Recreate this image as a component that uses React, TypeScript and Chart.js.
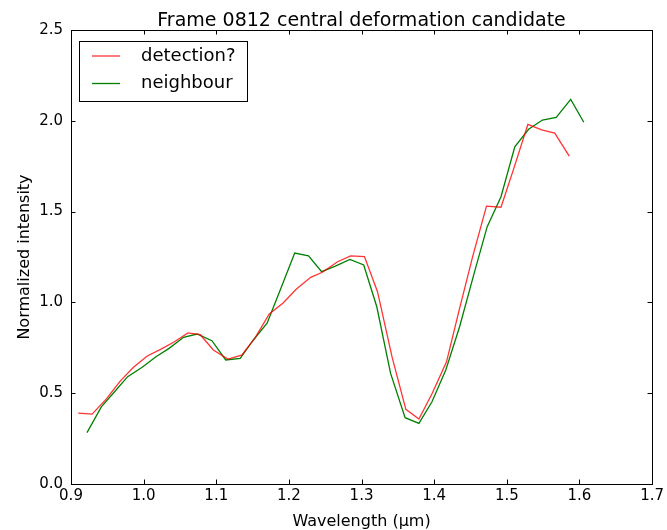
import React, { useEffect, useRef } from "react";
import { Chart, registerables } from "chart.js";

Chart.register(...registerables);

const TITLE = "Frame 0812 central deformation candidate";
const X_LABEL = "Wavelength (µm)";
const Y_LABEL = "Normalized intensity";

const detectionLabel = "detection?";
const detectionWavelength = [
  0.91, 0.929, 0.949, 0.968, 0.986, 1.005, 1.024, 1.043, 1.061, 1.078, 1.096, 1.116,
  1.135, 1.153, 1.173, 1.192, 1.21, 1.23, 1.246, 1.267, 1.285, 1.304, 1.322, 1.342,
  1.361, 1.379, 1.397, 1.417, 1.435, 1.453, 1.472, 1.492, 1.51, 1.529, 1.548, 1.566, 1.586,
];
const detectionIntensity = [
  0.39, 0.385, 0.47, 0.568, 0.643, 0.705, 0.743, 0.785, 0.832, 0.822, 0.738, 0.688,
  0.71, 0.802, 0.936, 0.997, 1.072, 1.138, 1.166, 1.224, 1.256, 1.252, 1.059, 0.7,
  0.411, 0.358, 0.497, 0.673, 0.967, 1.252, 1.53, 1.524, 1.742, 1.98, 1.95, 1.932, 1.806,
];

const neighbourLabel = "neighbour";
const neighbourWavelength = [
  0.922, 0.942, 0.96, 0.978, 0.998, 1.017, 1.035, 1.055, 1.0735, 1.094, 1.113, 1.133,
  1.151, 1.17, 1.189, 1.208, 1.227, 1.245, 1.264, 1.284, 1.303, 1.321, 1.34, 1.36,
  1.379, 1.397, 1.416, 1.435, 1.455, 1.473, 1.492, 1.511, 1.53, 1.549, 1.568, 1.588, 1.606,
];
const neighbourIntensity = [
  0.283, 0.426, 0.508, 0.591, 0.643, 0.701, 0.747, 0.808, 0.826, 0.789, 0.683, 0.692,
  0.793, 0.885, 1.078, 1.272, 1.256, 1.169, 1.2, 1.237, 1.206, 0.976, 0.609, 0.365,
  0.334, 0.453, 0.628, 0.866, 1.16, 1.417, 1.582, 1.857, 1.953, 2.004, 2.019, 2.118, 1.992,
];

const xTicks = [0.9, 1.0, 1.1, 1.2, 1.3, 1.4, 1.5, 1.6, 1.7];
const yTicks = [0.0, 0.5, 1.0, 1.5, 2.0, 2.5];

const FONT = "'DejaVu Sans', sans-serif";

const decorPlugin = {
  id: "decor",
  afterDraw(chart: any) {
    const ctx = chart.ctx as CanvasRenderingContext2D;
    const { left, right, top, bottom } = chart.chartArea;
    const xs = chart.scales.x;
    const ys = chart.scales.y;
    ctx.save();
    ctx.strokeStyle = "#000";
    ctx.lineWidth = 1;
    // frame
    ctx.strokeRect(Math.round(left) + 0.5, Math.round(top) + 0.5, Math.round(right - left), Math.round(bottom - top));
    // inward ticks
    const TL = 4.5;
    ctx.beginPath();
    xTicks.forEach((v) => {
      const px = Math.round(xs.getPixelForValue(v)) + 0.5;
      ctx.moveTo(px, bottom);
      ctx.lineTo(px, bottom - TL);
      ctx.moveTo(px, top);
      ctx.lineTo(px, top + TL);
    });
    yTicks.forEach((v) => {
      const py = Math.round(ys.getPixelForValue(v)) + 0.5;
      ctx.moveTo(left, py);
      ctx.lineTo(left + TL, py);
      ctx.moveTo(right, py);
      ctx.lineTo(right - TL, py);
    });
    ctx.stroke();

    // title
    ctx.fillStyle = "#000";
    ctx.font = `19px ${FONT}`;
    ctx.textAlign = "center";
    ctx.textBaseline = "alphabetic";
    ctx.fillText(TITLE, (left + right) / 2, 26);

    // axis titles
    ctx.font = `16px ${FONT}`;
    ctx.fillText(X_LABEL, (left + right) / 2, 526);
    ctx.save();
    ctx.translate(29, (top + bottom) / 2);
    ctx.rotate(-Math.PI / 2);
    ctx.fillText(Y_LABEL, 0, 0);
    ctx.restore();

    // legend
    const bx = 79.5, by = 41.5, bw = 168, bh = 60;
    ctx.fillStyle = "#fff";
    ctx.fillRect(bx, by, bw, bh);
    ctx.strokeStyle = "#000";
    ctx.strokeRect(bx, by, bw, bh);
    ctx.font = `18px ${FONT}`;
    ctx.textAlign = "left";
    ctx.textBaseline = "middle";
    chart.data.datasets.forEach((ds: any, i: number) => {
      const ly = 56 + i * 27.5;
      ctx.strokeStyle = ds.borderColor;
      ctx.lineWidth = ds.borderWidth;
      ctx.beginPath();
      ctx.moveTo(92, ly);
      ctx.lineTo(120, ly);
      ctx.stroke();
      ctx.fillStyle = "#000";
      ctx.fillText(ds.label, 141, ly);
    });
    ctx.restore();
  },
};

export default function App() {
  const ref = useRef<HTMLCanvasElement | null>(null);

  useEffect(() => {
    if (!ref.current) return;
    const chart = new Chart(ref.current, {
      type: "line",
      data: {
        datasets: [
          {
            label: detectionLabel,
            data: detectionWavelength.map((x, i) => ({ x, y: detectionIntensity[i] })),
            borderColor: "rgba(255,0,0,0.8)",
            borderWidth: 1.3,
            pointRadius: 0,
            tension: 0,
            fill: false,
          },
          {
            label: neighbourLabel,
            data: neighbourWavelength.map((x, i) => ({ x, y: neighbourIntensity[i] })),
            borderColor: "#008000",
            borderWidth: 1.3,
            pointRadius: 0,
            tension: 0,
            fill: false,
          },
        ],
      },
      options: {
        responsive: false,
        animation: false,
        devicePixelRatio: 1,
        layout: { padding: { left: 0, right: 9, top: 30, bottom: 0 } },
        plugins: {
          legend: { display: false },
          title: { display: false },
          tooltip: { enabled: false },
        },
        scales: {
          x: {
            type: "linear",
            min: 0.9,
            max: 1.7,
            afterBuildTicks: (s: any) => {
              s.ticks = xTicks.map((v) => ({ value: v }));
            },
            afterFit: (s: any) => {
              s.height = 46;
            },
            grid: { display: false, drawTicks: false },
            border: { display: false },
            ticks: {
              callback: (v: any) => Number(v).toFixed(1),
              color: "#000",
              font: { family: FONT, size: 15 },
              padding: 3,
              maxRotation: 0,
              autoSkip: false,
            },
          },
          y: {
            type: "linear",
            min: 0,
            max: 2.5,
            afterBuildTicks: (s: any) => {
              s.ticks = yTicks.map((v) => ({ value: v }));
            },
            afterFit: (s: any) => {
              s.width = 71;
            },
            grid: { display: false, drawTicks: false },
            border: { display: false },
            ticks: {
              callback: (v: any) => Number(v).toFixed(1),
              color: "#000",
              font: { family: FONT, size: 15 },
              padding: 8,
              autoSkip: false,
            },
          },
        },
      },
      plugins: [decorPlugin],
    });
    return () => chart.destroy();
  }, []);

  return (
    <div style={{ position: "fixed", left: 0, top: 0, width: 667, height: 530, background: "#fff" }}>
      <canvas ref={ref} width={667} height={530} style={{ width: 667, height: 530, display: "block" }} />
    </div>
  );
}
